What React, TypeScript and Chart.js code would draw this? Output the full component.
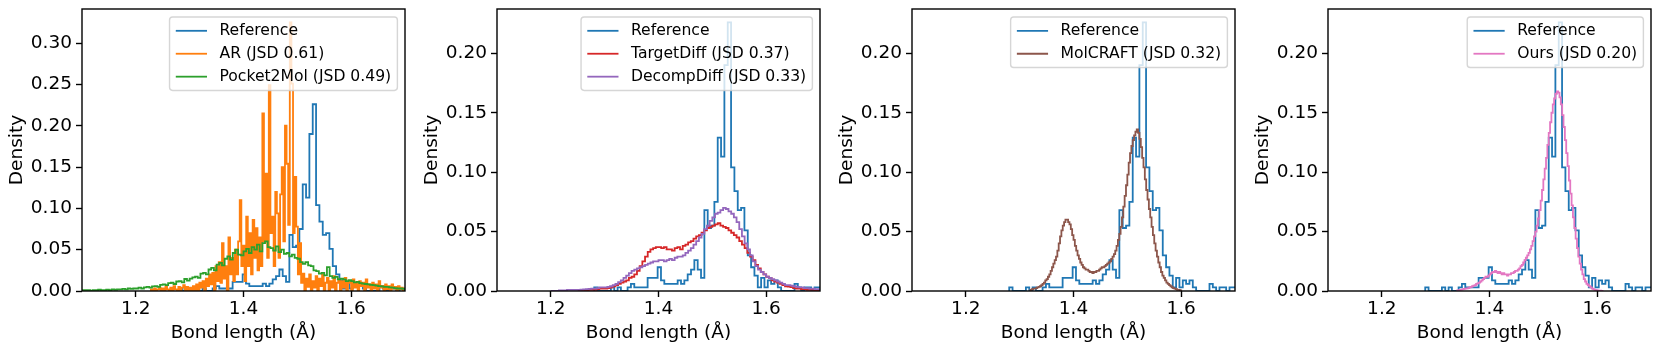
import React, { useEffect, useRef } from "react";
import { Chart, registerables } from "chart.js";

Chart.register(...registerables);

// ---------- data ----------
const X_MIN = 1.1;
const X_MAX = 1.7;
const X_TICKS = [1.2, 1.4, 1.6];
const Y_TICKS_WIDE = [0, 0.05, 0.1, 0.15, 0.2, 0.25, 0.3];
const Y_TICKS = [0, 0.05, 0.1, 0.15, 0.2];

const X_TITLE = "Bond length (Å)";
const Y_TITLE = "Density";

// Reference histogram (bin width 0.0062)
const REF_START = 1.2806;
const REF_BIN = 0.0062;
const REF_VALUES = [
  0.003, 0, 0, 0, 0, 0.003, 0, 0.003, 0, 0,
  0.003, 0.006, 0.003, 0.003, 0.003, 0.003, 0.011, 0.011, 0.011, 0.02,
  0.009, 0.006, 0.006, 0.006, 0.006, 0.009, 0.006, 0.009, 0.014, 0.018,
  0.026, 0.018, 0.011, 0.068, 0.053, 0.055, 0.075, 0.129, 0.113, 0.19,
  0.226, 0.104, 0.084, 0.068, 0.07, 0.051, 0.03, 0.02, 0.013, 0.003,
  0.011, 0.003, 0.009, 0.006, 0.009, 0.003, 0, 0, 0, 0,
  0.006, 0.003, 0, 0.003, 0.003, 0, 0.003, 0.003,
];

// AR (bin width 0.003)
const AR_START = 1.228;
const AR_BIN = 0.003;
const AR_VALUES = [
  0.002, 0, 0.003, 0, 0.002, 0.004, 0, 0.003, 0, 0.005, 0.002, 0, 0.004, 0, 0.006, 0.002, 0, 0.005, 0, 0.004, 0.007, 0, 0.005, 0,
  0.004, 0, 0.006, 0, 0.008, 0, 0.01, 0.004, 0.012, 0,
  0.015, 0.006, 0.02, 0.008, 0.022, 0, 0.03, 0.012, 0.035, 0.01,
  0.058, 0.015, 0.03, 0, 0.065, 0.02, 0.04, 0.012, 0.05, 0.02,
  0.06, 0.11, 0.03, 0.055, 0.012, 0.09, 0.03, 0.07, 0.02, 0.086,
  0.04, 0.076, 0.025, 0.065, 0.03, 0.215, 0.06, 0.142, 0.04, 0.249,
  0.07, 0.09, 0.03, 0.12, 0.094, 0.04, 0.117, 0.15, 0.06, 0.2,
  0.154, 0.08, 0.325, 0.251, 0.07, 0.138, 0.078, 0.02, 0.058, 0.01,
  0.021, 0, 0.015, 0.005, 0.02, 0, 0.012, 0.004, 0.018, 0,
  0.015, 0.006, 0.02, 0, 0.01, 0.016, 0, 0.012, 0.004, 0.018,
  0, 0.01, 0.014, 0, 0.012, 0.004, 0.016, 0, 0.01, 0.012,
  0, 0.014, 0.004, 0.01, 0, 0.012, 0.006, 0.01, 0, 0.014,
  0.004, 0.008, 0, 0.01, 0.003, 0.008, 0, 0.012, 0.004, 0.006,
  0, 0.008, 0.002, 0.006, 0, 0.008, 0.003, 0.005, 0, 0.006,
  0.002, 0.004, 0,
];

// Pocket2Mol (bin width 0.005)
const P2M_START = 1.1;
const P2M_BIN = 0.005;
const P2M_VALUES = [
  0.001, 0.001, 0.001, 0.0005, 0.001, 0.001, 0.0015, 0.001, 0.001, 0.0015, 0.001, 0.002, 0.0015, 0.002, 0.002, 0.0025, 0.002, 0.003, 0.0025, 0.003,
  0.003, 0.004, 0.003, 0.0045, 0.005, 0.004, 0.0055, 0.006, 0.005, 0.0075, 0.008, 0.007, 0.0095, 0.01, 0.0085, 0.0115, 0.012, 0.0105, 0.0145, 0.0125,
  0.015, 0.0165, 0.0175, 0.016, 0.021, 0.022, 0.02, 0.026, 0.028, 0.025, 0.032, 0.034, 0.031, 0.039, 0.042, 0.038, 0.046, 0.05, 0.044, 0.043,
  0.048, 0.051, 0.046, 0.053, 0.05, 0.056, 0.048, 0.058, 0.06, 0.053, 0.052, 0.049, 0.054, 0.047, 0.05, 0.045, 0.046, 0.042, 0.044, 0.04,
  0.039, 0.035, 0.033, 0.035, 0.031, 0.03, 0.025, 0.024, 0.021, 0.022, 0.019, 0.029, 0.018, 0.016, 0.017, 0.014, 0.015, 0.014, 0.012, 0.013,
  0.012, 0.0105, 0.011, 0.0095, 0.009, 0.0085, 0.008, 0.0075, 0.007, 0.0065, 0.006, 0.0055, 0.005, 0.005, 0.0045, 0.004, 0.0035, 0.003, 0.003, 0.0025,
];

// TargetDiff (bin width 0.005)
const TD_START = 1.25;
const TD_BIN = 0.005;
const TD_VALUES = [
  0, 0, 0.0005, 0.0005, 0.001, 0.001, 0.001, 0.0015, 0.002, 0.002,
  0.002, 0.0025, 0.003, 0.004, 0.005, 0.006, 0.007, 0.008, 0.009, 0.011,
  0.012, 0.014, 0.017, 0.021, 0.025, 0.029, 0.033, 0.035, 0.036, 0.037,
  0.037, 0.036, 0.037, 0.035, 0.035, 0.034, 0.036, 0.037, 0.035, 0.038,
  0.039, 0.041, 0.042, 0.044, 0.046, 0.047, 0.049, 0.051, 0.053, 0.054,
  0.055, 0.056, 0.057, 0.055, 0.054, 0.053, 0.051, 0.049, 0.047, 0.045,
  0.042, 0.039, 0.036, 0.032, 0.029, 0.026, 0.022, 0.019, 0.016, 0.014,
  0.012, 0.011, 0.009, 0.008, 0.007, 0.006, 0.005, 0.004, 0.0038, 0.0032,
  0.0025, 0.002, 0.002, 0.0015, 0.0015, 0.001, 0.001, 0.001, 0.0005, 0.0005,
];

// DecompDiff (bin width 0.005)
const DD_START = 1.2;
const DD_BIN = 0.005;
const DD_VALUES = [
  0, 0, 0, 0.0005, 0.0005, 0.0005, 0.001, 0.001, 0.001, 0.001,
  0.001, 0.0012, 0.0014, 0.0016, 0.0018, 0.002, 0.002, 0.0025, 0.003, 0.003,
  0.003, 0.0035, 0.004, 0.005, 0.006, 0.0075, 0.009, 0.011, 0.013, 0.015,
  0.017, 0.018, 0.019, 0.02, 0.021, 0.022, 0.023, 0.024, 0.025, 0.025,
  0.026, 0.026, 0.025, 0.026, 0.027, 0.026, 0.028, 0.029, 0.029, 0.03,
  0.032, 0.034, 0.036, 0.039, 0.042, 0.045, 0.048, 0.052, 0.055, 0.059,
  0.062, 0.065, 0.066, 0.068, 0.07, 0.069, 0.067, 0.065, 0.062, 0.058,
  0.052, 0.046, 0.04, 0.035, 0.03, 0.025, 0.021, 0.018, 0.016, 0.014,
  0.012, 0.011, 0.01, 0.009, 0.008, 0.007, 0.006, 0.005, 0.005, 0.0045,
  0.004, 0.0035, 0.003, 0.003, 0.0025, 0.0025, 0.002, 0.002, 0.0015, 0.0015,
];

// MolCRAFT (bin width 0.0025)
const MC_START = 1.32;
const MC_BIN = 0.0025;
const MC_VALUES = [
  0.001, 0.0015, 0.002, 0.002, 0.0025, 0.003, 0.0035, 0.004, 0.005, 0.006,
  0.007, 0.009, 0.01, 0.012, 0.014, 0.017, 0.02, 0.023, 0.026, 0.029,
  0.034, 0.04, 0.046, 0.051, 0.055, 0.058, 0.06, 0.06, 0.058, 0.056,
  0.052, 0.047, 0.043, 0.038, 0.034, 0.03, 0.027, 0.024, 0.022, 0.02,
  0.019, 0.018, 0.018, 0.017, 0.016, 0.016, 0.015, 0.016, 0.016, 0.017,
  0.017, 0.018, 0.019, 0.02, 0.02, 0.021, 0.022, 0.023, 0.024, 0.025,
  0.027, 0.029, 0.031, 0.034, 0.038, 0.043, 0.048, 0.054, 0.062, 0.071,
  0.08, 0.089, 0.098, 0.108, 0.116, 0.122, 0.127, 0.131, 0.134, 0.136,
  0.133, 0.128, 0.121, 0.112, 0.104, 0.094, 0.085, 0.077, 0.069, 0.062,
  0.054, 0.047, 0.04, 0.034, 0.029, 0.024, 0.02, 0.016, 0.013, 0.011,
  0.009, 0.007, 0.006, 0.005, 0.004, 0.003, 0.0025, 0.002, 0.0015, 0.001,
  0.001, 0.0005,
];

// Ours (bin width 0.0025)
const OURS_START = 1.34;
const OURS_BIN = 0.0025;
const OURS_VALUES = [
  0.0005, 0.0008, 0.001, 0.0012, 0.0015, 0.0018, 0.002, 0.0022, 0.0025, 0.003,
  0.0035, 0.004, 0.0045, 0.005, 0.006, 0.0065, 0.007, 0.008, 0.009, 0.01,
  0.011, 0.012, 0.012, 0.013, 0.014, 0.015, 0.016, 0.016, 0.017, 0.016,
  0.015, 0.016, 0.015, 0.014, 0.015, 0.014, 0.014, 0.013, 0.014, 0.014,
  0.015, 0.015, 0.016, 0.017, 0.017, 0.018, 0.019, 0.021, 0.022, 0.024,
  0.026, 0.028, 0.03, 0.032, 0.035, 0.038, 0.042, 0.046, 0.05, 0.055,
  0.061, 0.068, 0.076, 0.085, 0.094, 0.103, 0.112, 0.123, 0.133, 0.142,
  0.15, 0.157, 0.162, 0.166, 0.168, 0.167, 0.163, 0.157, 0.148, 0.138,
  0.127, 0.116, 0.105, 0.093, 0.082, 0.072, 0.062, 0.053, 0.044, 0.036,
  0.029, 0.023, 0.018, 0.014, 0.01, 0.008, 0.006, 0.005, 0.004, 0.003,
  0.002, 0.0015, 0.001, 0.0008, 0.0005, 0.0003, 0.0002, 0.0001,
];

const LABEL_REF = "Reference";
const LABEL_AR = "AR (JSD 0.61)";
const LABEL_P2M = "Pocket2Mol (JSD 0.49)";
const LABEL_TD = "TargetDiff (JSD 0.37)";
const LABEL_DD = "DecompDiff (JSD 0.33)";
const LABEL_MC = "MolCRAFT (JSD 0.32)";
const LABEL_OURS = "Ours (JSD 0.20)";

// ---------- styles ----------
const FONT = "'DejaVu Sans', 'Liberation Sans', sans-serif";
const C_BLUE = "#1f77b4";
const C_ORANGE = "#ff7f0e";
const C_GREEN = "#2ca02c";
const C_RED = "#d62728";
const C_PURPLE = "#9467bd";
const C_BROWN = "#8c564b";
const C_PINK = "#e377c2";

type Series = { label: string; start: number; bin: number; values: number[]; color: string };

const REF: Series = { label: LABEL_REF, start: REF_START, bin: REF_BIN, values: REF_VALUES, color: C_BLUE };

const PANELS: { series: Series[]; yTicks: number[] }[] = [
  {
    series: [
      REF,
      { label: LABEL_AR, start: AR_START, bin: AR_BIN, values: AR_VALUES, color: C_ORANGE },
      { label: LABEL_P2M, start: P2M_START, bin: P2M_BIN, values: P2M_VALUES, color: C_GREEN },
    ],
    yTicks: Y_TICKS_WIDE,
  },
  {
    series: [
      REF,
      { label: LABEL_TD, start: TD_START, bin: TD_BIN, values: TD_VALUES, color: C_RED },
      { label: LABEL_DD, start: DD_START, bin: DD_BIN, values: DD_VALUES, color: C_PURPLE },
    ],
    yTicks: Y_TICKS,
  },
  {
    series: [REF, { label: LABEL_MC, start: MC_START, bin: MC_BIN, values: MC_VALUES, color: C_BROWN }],
    yTicks: Y_TICKS,
  },
  {
    series: [REF, { label: LABEL_OURS, start: OURS_START, bin: OURS_BIN, values: OURS_VALUES, color: C_PINK }],
    yTicks: Y_TICKS,
  },
];

const CANVAS_W = 415;
const CANVAS_H = 353;
const PANEL_LEFTS = [0, 415, 830, 1246];
const LINE_W = 1.8;
const AXIS_FONT_SIZE = 18.5;
const LEGEND_FONT_SIZE = 15.6;

function stepPoints(start: number, bin: number, values: number[]) {
  const pts = [{ x: start, y: 0 }];
  values.forEach((v, i) => pts.push({ x: start + i * bin, y: v }));
  pts.push({ x: start + values.length * bin, y: 0 });
  return pts;
}

const framePlugin = {
  id: "frame",
  afterDatasetsDraw(chart: any) {
    const { ctx, chartArea: a } = chart;
    ctx.save();
    ctx.strokeStyle = "#000";
    ctx.lineWidth = 1.4;
    ctx.strokeRect(a.left, a.top, a.right - a.left, a.bottom - a.top);
    ctx.restore();
  },
};

const legendPlugin = {
  id: "mplLegend",
  afterDraw(chart: any) {
    const { ctx, chartArea: a } = chart;
    const fs = LEGEND_FONT_SIZE;
    const items = chart.data.datasets.map((d: any) => ({ label: d.label, color: d.borderColor }));
    const n = items.length;
    ctx.save();
    ctx.font = `${fs}px ${FONT}`;
    const tw = Math.max(...items.map((it: any) => ctx.measureText(it.label).width));
    const bp = 0.4 * fs;
    const hl = 2 * fs;
    const hp = 0.8 * fs;
    const ls = 0.5 * fs;
    const th = 0.97 * fs;
    const w = bp + hl + hp + tw + bp;
    const h = 2 * bp + n * th + (n - 1) * ls;
    const right = a.right - 7.6;
    const top = a.top + 8;
    const left = right - w;
    const r = 0.2 * fs;
    ctx.beginPath();
    ctx.moveTo(left + r, top);
    ctx.lineTo(left + w - r, top);
    ctx.arcTo(left + w, top, left + w, top + r, r);
    ctx.lineTo(left + w, top + h - r);
    ctx.arcTo(left + w, top + h, left + w - r, top + h, r);
    ctx.lineTo(left + r, top + h);
    ctx.arcTo(left, top + h, left, top + h - r, r);
    ctx.lineTo(left, top + r);
    ctx.arcTo(left, top, left + r, top, r);
    ctx.closePath();
    ctx.fillStyle = "rgba(255,255,255,0.8)";
    ctx.fill();
    ctx.strokeStyle = "rgba(204,204,204,0.8)";
    ctx.lineWidth = 1.4;
    ctx.stroke();
    items.forEach((it: any, k: number) => {
      const cy = top + bp + th / 2 + k * (th + ls);
      ctx.beginPath();
      ctx.strokeStyle = it.color;
      ctx.lineWidth = LINE_W;
      ctx.moveTo(left + bp, cy);
      ctx.lineTo(left + bp + hl, cy);
      ctx.stroke();
      ctx.fillStyle = "#000";
      ctx.textBaseline = "middle";
      ctx.textAlign = "left";
      ctx.fillText(it.label, left + bp + hl + hp, cy);
    });
    ctx.restore();
  },
};

function Panel({ left, series, yTicks }: { left: number; series: Series[]; yTicks: number[] }) {
  const ref = useRef<HTMLCanvasElement>(null);
  useEffect(() => {
    if (!ref.current) return;
    const font = { family: FONT, size: AXIS_FONT_SIZE };
    const datasets = series.map((s, i) => ({
      label: s.label,
      data: stepPoints(s.start, s.bin, s.values),
      borderColor: s.color,
      backgroundColor: s.color,
      borderWidth: LINE_W,
      pointRadius: 0,
      pointHoverRadius: 0,
      stepped: true,
      fill: false,
      tension: 0,
      order: series.length - i,
    }));
    const ymax = Math.max(...series.flatMap((s) => s.values)) * 1.05;
    const chart = new Chart(ref.current, {
      type: "line",
      data: { datasets } as any,
      options: {
        animation: false,
        responsive: false,
        devicePixelRatio: 1,
        events: [],
        layout: { padding: { top: 9, right: 10, left: 0, bottom: 0 } },
        plugins: { legend: { display: false }, tooltip: { enabled: false } },
        scales: {
          x: {
            type: "linear",
            position: "bottom",
            min: X_MIN,
            max: X_MAX,
            afterBuildTicks: (s: any) => {
              s.ticks = X_TICKS.map((value) => ({ value }));
            },
            afterFit: (s: any) => {
              s.height = 62;
              s.paddingLeft = 0;
              s.paddingRight = 0;
            },
            ticks: {
              font,
              color: "#000",
              padding: 1.5,
              maxRotation: 0,
              autoSkip: false,
              callback: (v: any) => Number(v).toFixed(1),
            },
            grid: { drawOnChartArea: false, drawTicks: true, tickLength: 6, tickColor: "#000", tickWidth: 1.4, color: "#000" },
            border: { display: false },
            title: { display: true, text: X_TITLE, font, color: "#000", padding: { top: 0, bottom: 8.5 } },
          },
          y: {
            type: "linear",
            position: "left",
            min: 0,
            max: ymax,
            afterBuildTicks: (s: any) => {
              s.ticks = yTicks.map((value) => ({ value }));
            },
            afterFit: (s: any) => {
              s.width = 82;
              s.paddingTop = 0;
              s.paddingBottom = 0;
            },
            ticks: {
              font,
              color: "#000",
              padding: 4,
              autoSkip: false,
              callback: (v: any) => Number(v).toFixed(2),
            },
            grid: { drawOnChartArea: false, drawTicks: true, tickLength: 6, tickColor: "#000", tickWidth: 1.4, color: "#000" },
            border: { display: false },
            title: { display: true, text: Y_TITLE, font, color: "#000", padding: { top: 6, bottom: 0 } },
          },
        },
      } as any,
      plugins: [framePlugin, legendPlugin],
    });
    return () => chart.destroy();
  }, [series, yTicks]);
  return (
    <canvas
      ref={ref}
      width={CANVAS_W}
      height={CANVAS_H}
      style={{ position: "absolute", left, top: 0, width: CANVAS_W, height: CANVAS_H }}
    />
  );
}

export default function App() {
  return (
    <div style={{ position: "absolute", left: 0, top: 0, width: 1660, height: 353, background: "#fff" }}>
      {PANELS.map((p, i) => (
        <Panel key={i} left={PANEL_LEFTS[i]} series={p.series} yTicks={p.yTicks} />
      ))}
    </div>
  );
}
